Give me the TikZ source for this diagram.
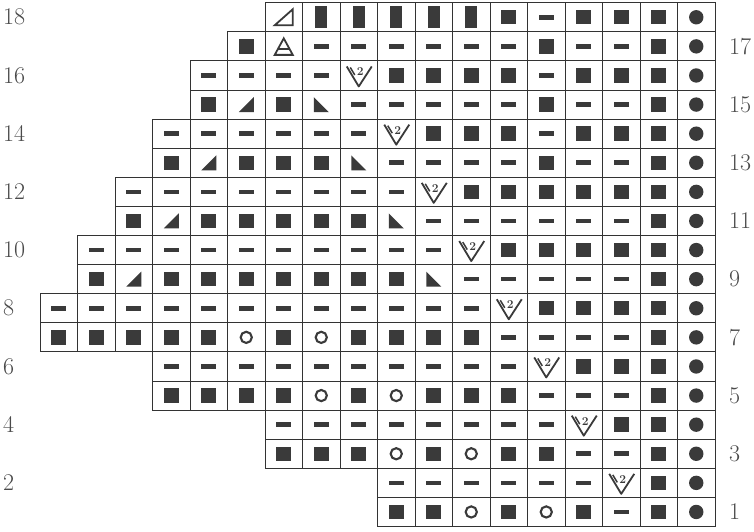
\documentclass[tikz,border=0pt]{standalone}
\usepackage{tikz}
\definecolor{ink}{HTML}{3A3A3A}
\definecolor{gridc}{HTML}{333333}
\definecolor{labc}{HTML}{4A4A4A}
\tikzset{
  cell/.style={draw=gridc, line width=0.9pt, minimum width=37.5pt, minimum height=29.1pt, inner sep=0pt, outer sep=0pt},
  rowlab/.style={text=labc, font=\fontsize{24}{24}\selectfont, inner sep=0pt, anchor=west},
  symK/.pic={\fill[ink] (-7.5,-7.2) rectangle (7.5,7.2);},
  symP/.pic={\fill[ink] (-7.5,-2.3) rectangle (7.5,2.3);},
  symD/.pic={\fill[ink] (0,0) circle (7.2);},
  symO/.pic={\draw[ink, line width=2.1pt] (0,0) circle (5.6);},
  symB/.pic={\fill[ink] (-6,-11) rectangle (6,11);},
  symL/.pic={\fill[ink] (-7.5,7.5) -- (7.5,7.5) -- (7.5,-7.5) -- cycle;},
  symR/.pic={\fill[ink] (-7.5,-7.5) -- (-7.5,7.5) -- (7.5,7.5) -- cycle;},
  symT/.pic={\draw[ink, line width=1.8pt, line join=miter] (-9,8) -- (9,8) -- (9,-8) -- cycle;},
  symA/.pic={\draw[ink, line width=1.8pt, line join=miter] (-9,8.5) -- (0,-8) -- (9,8.5) -- cycle;
             \draw[ink, line width=1.8pt] (-5.6,2.3) -- (5.6,2.3);},
  symV/.pic={\draw[ink, line width=1.8pt, line join=round] (-12,-9) -- (0,11) -- (13,-9);
             \draw[ink, line width=1.5pt] (-8.5,-8) -- (-4,-0.5);
             \node[text=ink, font=\bfseries\fontsize{12}{12}\selectfont, inner sep=0pt] (two) at (1.5,-3.5) {2};},
}
\begin{document}
\begin{tikzpicture}[x=1pt,y=-1pt]
\useasboundingbox (0,0) rectangle (754,531);
\foreach \r/\s/\lst in {
  1/10/{K,K,O,K,O,K,P,K,D},
  2/10/{P,P,P,P,P,P,V,K,D},
  3/7/{K,K,K,O,K,O,K,K,P,P,K,D},
  4/7/{P,P,P,P,P,P,P,P,V,K,K,D},
  5/4/{K,K,K,K,O,K,O,K,K,K,P,P,P,K,D},
  6/4/{P,P,P,P,P,P,P,P,P,P,V,K,K,K,D},
  7/1/{K,K,K,K,K,O,K,O,K,K,K,K,P,P,P,P,K,D},
  8/1/{P,P,P,P,P,P,P,P,P,P,P,P,V,K,K,K,K,D},
  9/2/{K,L,K,K,K,K,K,K,K,R,P,P,P,P,P,K,D},
  10/2/{P,P,P,P,P,P,P,P,P,P,V,K,K,K,K,K,D},
  11/3/{K,L,K,K,K,K,K,R,P,P,P,P,P,P,K,D},
  12/3/{P,P,P,P,P,P,P,P,V,K,K,K,K,K,K,D},
  13/4/{K,L,K,K,K,R,P,P,P,P,K,P,P,K,D},
  14/4/{P,P,P,P,P,P,V,K,K,K,P,K,K,K,D},
  15/5/{K,L,K,R,P,P,P,P,P,K,P,P,K,D},
  16/5/{P,P,P,P,V,K,K,K,K,P,K,K,K,D},
  17/6/{K,A,P,P,P,P,P,P,K,P,P,K,D},
  18/7/{T,B,B,B,B,B,K,P,K,K,K,D}}{
  \foreach \sym [count=\i from 0] in \lst {
    \pgfmathsetmacro\cx{21.25+(\s+\i)*37.5}
    \pgfmathsetmacro\cy{17.25+(18-\r)*29.1}
    \pgfmathtruncatemacro\cc{\s+\i}
    \node[cell] (c\r-\cc) at (\cx,\cy) {};
    \edef\tmp{\noexpand\pic at (\cx,\cy) {sym\sym};}\tmp
  }
}
\foreach \r in {2,4,...,18}{
  \pgfmathsetmacro\cy{17.25+(18-\r)*29.1}
  \node[rowlab] (lab\r) at (3,\cy) {\r};
}
\foreach \r in {1,3,...,17}{
  \pgfmathsetmacro\cy{17.25+(18-\r)*29.1}
  \node[rowlab] (lab\r) at (729,\cy) {\r};
}
\end{tikzpicture}
\end{document}
